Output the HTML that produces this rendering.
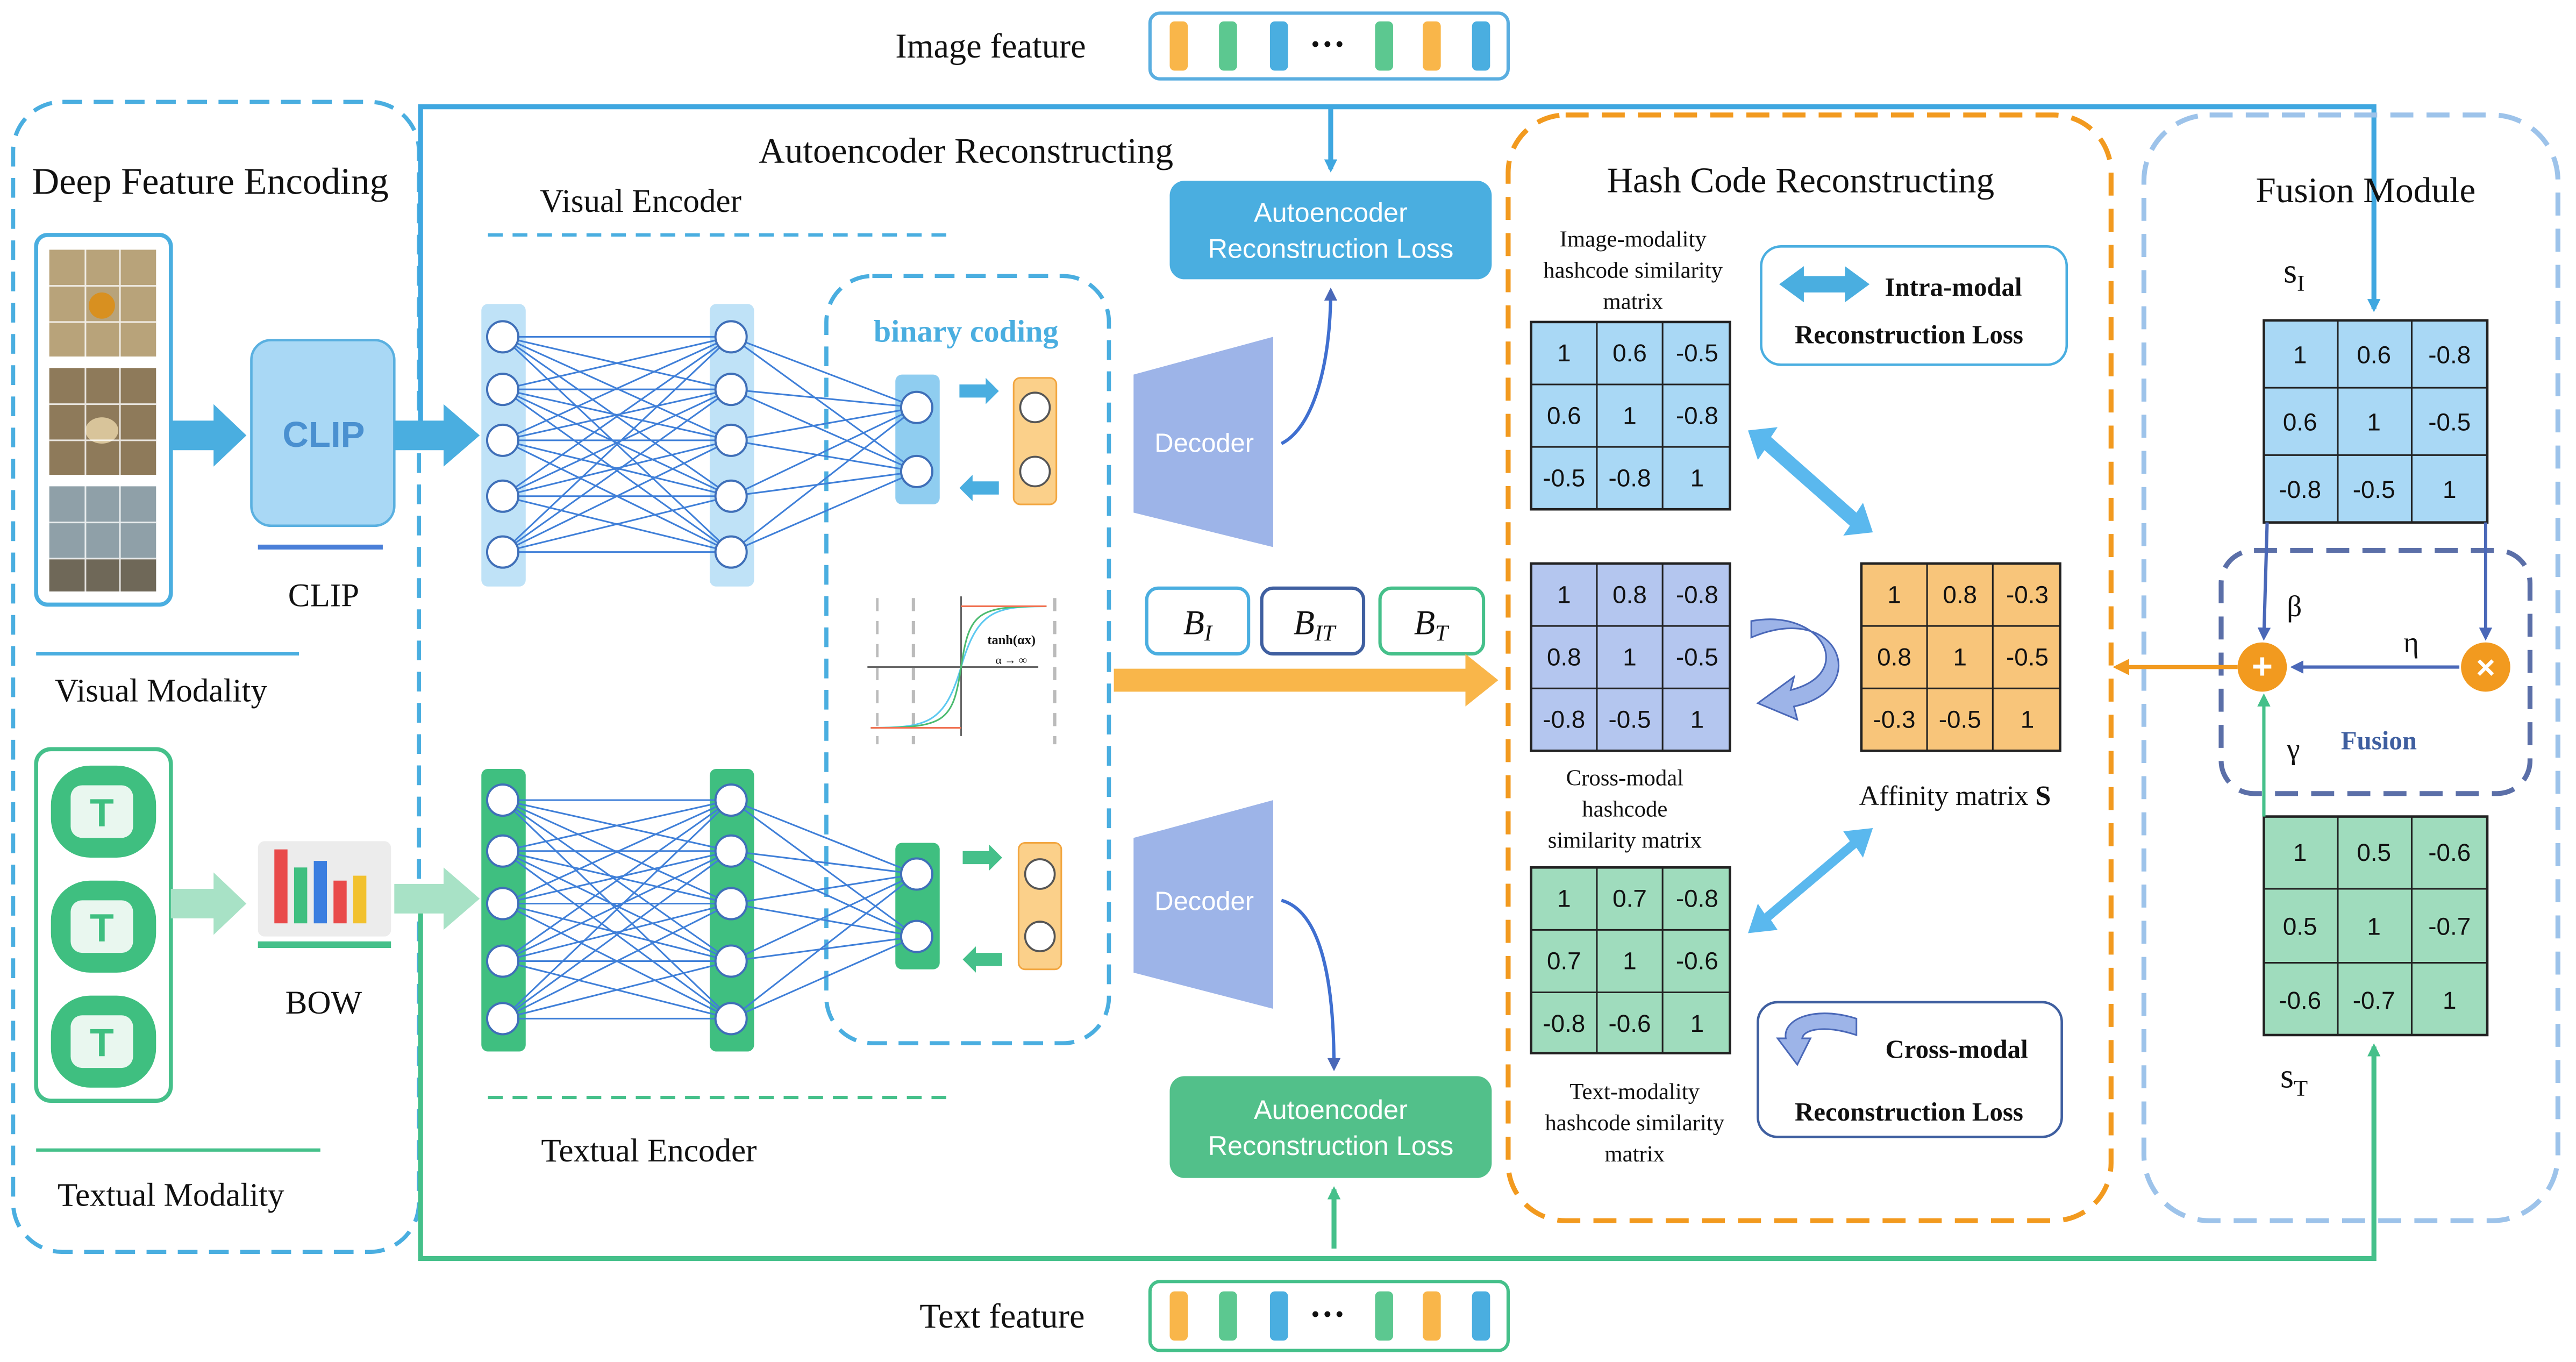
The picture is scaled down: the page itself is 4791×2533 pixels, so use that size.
<!DOCTYPE html>
<html><head><meta charset="utf-8"><style>
html,body{margin:0;padding:0;background:#fff;}
svg{display:block}
.serif{font-family:"Liberation Serif",serif;}
.sans{font-family:"Liberation Sans",sans-serif;}
</style></head><body>
<svg width="4791" height="2533" viewBox="0 0 1568 829" xmlns="http://www.w3.org/2000/svg">
<defs>
<marker id="ab" markerWidth="8" markerHeight="8" refX="6" refY="4" orient="auto" markerUnits="userSpaceOnUse"><path d="M0,0 L8,4 L0,8 z" fill="#3fa7e0"/></marker>
<marker id="ag" markerWidth="8" markerHeight="8" refX="6" refY="4" orient="auto" markerUnits="userSpaceOnUse"><path d="M0,0 L8,4 L0,8 z" fill="#45c08a"/></marker>
<marker id="an" markerWidth="8" markerHeight="8" refX="6" refY="4" orient="auto" markerUnits="userSpaceOnUse"><path d="M0,0 L8,4 L0,8 z" fill="#4a68b8"/></marker>
<marker id="ao" markerWidth="10" markerHeight="10" refX="8" refY="5" orient="auto" markerUnits="userSpaceOnUse"><path d="M0,0 L10,5 L0,10 z" fill="#f29a1f"/></marker>
</defs>
<style>
text{font-family:"Liberation Serif",serif;fill:#111;}
.s{font-family:"Liberation Sans",sans-serif;}
</style>

<!-- top/bottom feature boxes -->
<text x="603" y="35" font-size="21" text-anchor="middle">Image feature</text>
<rect x="700" y="8" width="218" height="40" rx="6" fill="#fff" stroke="#5aaee0" stroke-width="2"/>
<g>
<rect x="712" y="13" width="11" height="30" rx="3" fill="#f9b64a"/><rect x="742" y="13" width="11" height="30" rx="3" fill="#5cc890"/><rect x="773" y="13" width="11" height="30" rx="3" fill="#4aaee0"/>
<text x="808" y="34" font-size="22" text-anchor="middle" font-weight="bold">···</text>
<rect x="837" y="13" width="11" height="30" rx="3" fill="#5cc890"/><rect x="866" y="13" width="11" height="30" rx="3" fill="#f9b64a"/><rect x="896" y="13" width="11" height="30" rx="3" fill="#4aaee0"/>
</g>
<text x="610" y="808" font-size="21" text-anchor="middle">Text feature</text>
<rect x="700" y="780" width="218" height="42" rx="6" fill="#fff" stroke="#45c08a" stroke-width="2"/>
<g>
<rect x="712" y="786" width="11" height="30" rx="3" fill="#f9b64a"/><rect x="742" y="786" width="11" height="30" rx="3" fill="#5cc890"/><rect x="773" y="786" width="11" height="30" rx="3" fill="#4aaee0"/>
<text x="808" y="807" font-size="22" text-anchor="middle" font-weight="bold">···</text>
<rect x="837" y="786" width="11" height="30" rx="3" fill="#5cc890"/><rect x="866" y="786" width="11" height="30" rx="3" fill="#f9b64a"/><rect x="896" y="786" width="11" height="30" rx="3" fill="#4aaee0"/>
</g>

<!-- left dashed box -->
<rect x="8" y="62" width="247" height="700" rx="30" fill="none" stroke="#4aaee0" stroke-width="2.5" stroke-dasharray="12,7"/>
<text x="128" y="118" font-size="23" text-anchor="middle">Deep Feature Encoding</text>
<rect x="22" y="143" width="82" height="225" rx="7" fill="#fff" stroke="#4aaee0" stroke-width="2.5"/>
<rect x="30" y="152" width="65" height="65" fill="#b8a37a"/><circle cx="62" cy="186" r="8" fill="#d89020"/>
<rect x="30" y="224" width="65" height="65" fill="#8e7a5a"/><ellipse cx="62" cy="262" rx="10" ry="8" fill="#d8c49a"/>
<rect x="30" y="296" width="65" height="64" fill="#8fa0a8"/><rect x="30" y="340" width="65" height="20" fill="#6f6858"/>
<g stroke="#fff" stroke-width="1" opacity="0.8">
<line x1="52" y1="152" x2="52" y2="360"/><line x1="73" y1="152" x2="73" y2="360"/>
<line x1="30" y1="174" x2="95" y2="174"/><line x1="30" y1="196" x2="95" y2="196"/>
<line x1="30" y1="246" x2="95" y2="246"/><line x1="30" y1="268" x2="95" y2="268"/>
<line x1="30" y1="318" x2="95" y2="318"/><line x1="30" y1="340" x2="95" y2="340"/></g>
<path d="M104,256 L130,256 L130,246 L150,265 L130,284 L130,274 L104,274 z" fill="#4aaee0"/>
<rect x="153" y="207" width="87" height="113" rx="12" fill="#a9d8f5" stroke="#5ab0e0" stroke-width="1.5"/>
<text x="197" y="272" font-size="22" text-anchor="middle" class="s" font-weight="bold" fill="#4a90d0" style="fill:#4a90d0">CLIP</text>
<line x1="157" y1="333" x2="233" y2="333" stroke="#4a7fd8" stroke-width="3"/>
<text x="197" y="369" font-size="20" text-anchor="middle">CLIP</text>
<line x1="22" y1="398" x2="182" y2="398" stroke="#4aaee0" stroke-width="2"/>
<text x="98" y="427" font-size="20" text-anchor="middle">Visual Modality</text>

<rect x="22" y="456" width="82" height="214" rx="9" fill="#fff" stroke="#45c08a" stroke-width="2.5"/>
<g>
<rect x="31" y="466" width="64" height="56" rx="24" fill="#3fbf80"/><rect x="43" y="478" width="38" height="32" rx="7" fill="#e9f7ef"/><text x="62" y="503" font-size="24" text-anchor="middle" class="s" style="fill:#3fbf80" font-weight="bold">T</text>
<rect x="31" y="536" width="64" height="56" rx="24" fill="#3fbf80"/><rect x="43" y="548" width="38" height="32" rx="7" fill="#e9f7ef"/><text x="62" y="573" font-size="24" text-anchor="middle" class="s" style="fill:#3fbf80" font-weight="bold">T</text>
<rect x="31" y="606" width="64" height="56" rx="24" fill="#3fbf80"/><rect x="43" y="618" width="38" height="32" rx="7" fill="#e9f7ef"/><text x="62" y="643" font-size="24" text-anchor="middle" class="s" style="fill:#3fbf80" font-weight="bold">T</text>
</g>
<path d="M104,541 L130,541 L130,531 L150,550 L130,569 L130,559 L104,559 z" fill="#a8e2c6"/>
<rect x="157" y="512" width="81" height="58" rx="4" fill="#ececec"/>
<rect x="167" y="517" width="8" height="45" fill="#e94a4a"/><rect x="179" y="528" width="8" height="34" fill="#3fbf80"/><rect x="191" y="524" width="8" height="38" fill="#3b7ee0"/><rect x="203" y="536" width="8" height="26" fill="#e94a4a"/><rect x="215" y="533" width="8" height="29" fill="#f2c12e"/>
<line x1="157" y1="575" x2="238" y2="575" stroke="#45c08a" stroke-width="4"/>
<text x="197" y="617" font-size="20" text-anchor="middle">BOW</text>
<line x1="22" y1="700" x2="195" y2="700" stroke="#45c08a" stroke-width="2"/>
<text x="104" y="734" font-size="20" text-anchor="middle">Textual Modality</text>

<!-- long feature lines -->
<path d="M256,265 L256,65 L1445,65 L1445,188" fill="none" stroke="#3fa7e0" stroke-width="3" marker-end="url(#ab)"/>
<line x1="810" y1="65" x2="810" y2="103" stroke="#3fa7e0" stroke-width="3" marker-end="url(#ab)"/>
<path d="M256,550 L256,766 L1445,766 L1445,637" fill="none" stroke="#45c08a" stroke-width="3" marker-end="url(#ag)"/>
<line x1="812" y1="760" x2="812" y2="724" stroke="#45c08a" stroke-width="3" marker-end="url(#ag)"/>
<path d="M240,256 L270,256 L270,246 L292,265 L270,284 L270,274 L240,274 z" fill="#4aaee0"/>
<path d="M240,538 L270,538 L270,528 L292,547 L270,566 L270,556 L240,556 z" fill="#a8e2c6"/>

<!-- Autoencoder section -->
<text x="588" y="99" font-size="22" text-anchor="middle">Autoencoder Reconstructing</text>
<text x="390" y="129" font-size="20" text-anchor="middle">Visual Encoder</text>
<line x1="297" y1="143" x2="577" y2="143" stroke="#4aaee0" stroke-width="2" stroke-dasharray="9,6"/>
<rect x="503" y="168" width="172" height="467" rx="28" fill="none" stroke="#4aaee0" stroke-width="2.5" stroke-dasharray="12,7"/>
<text x="588" y="208" font-size="19" text-anchor="middle" font-weight="bold" style="fill:#4aaee0">binary coding</text>

<!-- visual network -->
<rect x="293" y="185" width="27" height="172" rx="4" fill="#bfe2f7"/>
<rect x="432" y="185" width="27" height="172" rx="4" fill="#bfe2f7"/>
<rect x="545" y="228" width="27" height="79" rx="4" fill="#8fcdf0"/>
<path stroke="#3f7fd8" stroke-width="1" fill="none" d="
M306,205L445,205M306,205L445,237M306,205L445,268M306,205L445,302M306,205L445,336
M306,237L445,205M306,237L445,237M306,237L445,268M306,237L445,302M306,237L445,336
M306,268L445,205M306,268L445,237M306,268L445,268M306,268L445,302M306,268L445,336
M306,302L445,205M306,302L445,237M306,302L445,268M306,302L445,302M306,302L445,336
M306,336L445,205M306,336L445,237M306,336L445,268M306,336L445,302M306,336L445,336
M445,205L558,248M445,237L558,248M445,268L558,248M445,302L558,248M445,336L558,248
M445,205L558,287M445,237L558,287M445,268L558,287M445,302L558,287M445,336L558,287"/>
<g fill="#fff" stroke="#3f6fb8" stroke-width="1.3">
<circle cx="306" cy="205" r="9.5"/><circle cx="306" cy="237" r="9.5"/><circle cx="306" cy="268" r="9.5"/><circle cx="306" cy="302" r="9.5"/><circle cx="306" cy="336" r="9.5"/>
<circle cx="445" cy="205" r="9.5"/><circle cx="445" cy="237" r="9.5"/><circle cx="445" cy="268" r="9.5"/><circle cx="445" cy="302" r="9.5"/><circle cx="445" cy="336" r="9.5"/>
<circle cx="558" cy="248" r="9.5"/><circle cx="558" cy="287" r="9.5"/></g>
<rect x="617" y="230" width="26" height="77" rx="4" fill="#fbd08a" stroke="#f2a640" stroke-width="1"/>
<g fill="#fff" stroke="#555" stroke-width="1.2"><circle cx="630" cy="248" r="9"/><circle cx="630" cy="287" r="9"/></g>
<path d="M584,234 L600,234 L600,230 L608,238 L600,246 L600,242 L584,242z" fill="#4aaee0"/>
<path d="M608,293 L592,293 L592,289 L584,297 L592,305 L592,301 L608,301z" fill="#4aaee0"/>

<!-- tanh -->
<g>
<line x1="556" y1="364" x2="556" y2="453" stroke="#bbb" stroke-width="2" stroke-dasharray="8,6"/>
<line x1="534" y1="364" x2="534" y2="453" stroke="#bbb" stroke-width="1.5" stroke-dasharray="8,6"/>
<line x1="642" y1="364" x2="642" y2="453" stroke="#bbb" stroke-width="2" stroke-dasharray="8,6"/>
<line x1="528" y1="406" x2="632" y2="406" stroke="#666" stroke-width="1"/>
<line x1="585" y1="363" x2="585" y2="448" stroke="#666" stroke-width="1"/>
<path d="M530,443 C565,443 575,440 585,406 C595,372 605,369 637,369" fill="none" stroke="#5cc8f0" stroke-width="1"/>
<path d="M530,443 C575,443 580,440 585,406 C590,372 595,369 637,369" fill="none" stroke="#4cbb70" stroke-width="1"/>
<path d="M530,443 L585,443 M585,369 L637,369" fill="none" stroke="#f07050" stroke-width="1"/>
<text x="601" y="392" font-size="8" font-weight="bold">tanh(αx)</text>
<text x="606" y="404" font-size="7">α → ∞</text>
</g>

<!-- textual network -->
<rect x="293" y="468" width="27" height="172" rx="4" fill="#3fbf80"/>
<rect x="432" y="468" width="27" height="172" rx="4" fill="#3fbf80"/>
<rect x="545" y="513" width="27" height="77" rx="4" fill="#3fbf80"/>
<path stroke="#3f7fd8" stroke-width="1" fill="none" d="
M306,487L445,487M306,487L445,518M306,487L445,550M306,487L445,585M306,487L445,620
M306,518L445,487M306,518L445,518M306,518L445,550M306,518L445,585M306,518L445,620
M306,550L445,487M306,550L445,518M306,550L445,550M306,550L445,585M306,550L445,620
M306,585L445,487M306,585L445,518M306,585L445,550M306,585L445,585M306,585L445,620
M306,620L445,487M306,620L445,518M306,620L445,550M306,620L445,585M306,620L445,620
M445,487L558,532M445,518L558,532M445,550L558,532M445,585L558,532M445,620L558,532
M445,487L558,570M445,518L558,570M445,550L558,570M445,585L558,570M445,620L558,570"/>
<g fill="#fff" stroke="#3f6fb8" stroke-width="1.3">
<circle cx="306" cy="487" r="9.5"/><circle cx="306" cy="518" r="9.5"/><circle cx="306" cy="550" r="9.5"/><circle cx="306" cy="585" r="9.5"/><circle cx="306" cy="620" r="9.5"/>
<circle cx="445" cy="487" r="9.5"/><circle cx="445" cy="518" r="9.5"/><circle cx="445" cy="550" r="9.5"/><circle cx="445" cy="585" r="9.5"/><circle cx="445" cy="620" r="9.5"/>
<circle cx="558" cy="532" r="9.5"/><circle cx="558" cy="570" r="9.5"/></g>
<rect x="620" y="513" width="26" height="77" rx="4" fill="#fbd08a" stroke="#f2a640" stroke-width="1"/>
<g fill="#fff" stroke="#555" stroke-width="1.2"><circle cx="633" cy="532" r="9"/><circle cx="633" cy="570" r="9"/></g>
<path d="M586,518 L602,518 L602,514 L610,522 L602,530 L602,526 L586,526z" fill="#45c08a"/>
<path d="M610,580 L594,580 L594,576 L586,584 L594,592 L594,588 L610,588z" fill="#45c08a"/>
<line x1="297" y1="668" x2="577" y2="668" stroke="#45c08a" stroke-width="2" stroke-dasharray="9,6"/>
<text x="395" y="707" font-size="20" text-anchor="middle">Textual Encoder</text>

<!-- decoders -->
<polygon points="690,228 775,205 775,333 690,312" fill="#9db4e8"/>
<text x="733" y="275" font-size="16" text-anchor="middle" class="s" style="fill:#fff">Decoder</text>
<polygon points="690,510 775,487 775,614 690,592" fill="#9db4e8"/>
<text x="733" y="554" font-size="16" text-anchor="middle" class="s" style="fill:#fff">Decoder</text>
<path d="M780,270 C800,260 810,220 810,177" fill="none" stroke="#3f6fd0" stroke-width="2" marker-end="url(#an)"/>
<path d="M780,548 C805,555 812,600 812,650" fill="none" stroke="#3f6fd0" stroke-width="2" marker-end="url(#an)"/>
<rect x="712" y="110" width="196" height="60" rx="9" fill="#4aaee0"/>
<text x="810" y="135" font-size="16.5" text-anchor="middle" class="s" style="fill:#fff">Autoencoder</text>
<text x="810" y="157" font-size="16.5" text-anchor="middle" class="s" style="fill:#fff">Reconstruction Loss</text>
<rect x="712" y="655" width="196" height="62" rx="9" fill="#52c08a"/>
<text x="810" y="681" font-size="16.5" text-anchor="middle" class="s" style="fill:#fff">Autoencoder</text>
<text x="810" y="703" font-size="16.5" text-anchor="middle" class="s" style="fill:#fff">Reconstruction Loss</text>

<rect x="698" y="358" width="62" height="40" rx="7" fill="#fff" stroke="#4aaee0" stroke-width="2"/>
<text x="729" y="386" font-size="21" text-anchor="middle" font-style="italic">B<tspan font-size="14" dy="4">I</tspan></text>
<rect x="768" y="358" width="62" height="40" rx="7" fill="#fff" stroke="#3f5fa0" stroke-width="2"/>
<text x="800" y="386" font-size="21" text-anchor="middle" font-style="italic">B<tspan font-size="14" dy="4">IT</tspan></text>
<rect x="840" y="358" width="63" height="40" rx="7" fill="#fff" stroke="#45c08a" stroke-width="2"/>
<text x="871" y="386" font-size="21" text-anchor="middle" font-style="italic">B<tspan font-size="14" dy="4">T</tspan></text>
<path d="M678,407 L892,407 L892,398 L912,414 L892,430 L892,421 L678,421 z" fill="#f9b64a"/>

<!-- Hash code reconstructing -->
<rect x="918" y="70" width="367" height="673" rx="35" fill="none" stroke="#f29a1f" stroke-width="3" stroke-dasharray="14,8"/>
<text x="1096" y="117" font-size="22" text-anchor="middle">Hash Code Reconstructing</text>
<text x="994" y="150" font-size="14" text-anchor="middle">Image-modality</text>
<text x="994" y="169" font-size="14" text-anchor="middle">hashcode similarity</text>
<text x="994" y="188" font-size="14" text-anchor="middle">matrix</text>

<g class="s" font-size="15">
<!-- blue matrix -->
<rect x="932" y="196" width="121" height="114" fill="#a9d8f5" stroke="#222" stroke-width="1.5"/>
<path d="M972,196V310M1012,196V310M932,234H1053M932,272H1053" stroke="#222" stroke-width="1"/>
<g text-anchor="middle" class="s"><text class="s" x="952" y="220">1</text><text class="s" x="992" y="220">0.6</text><text class="s" x="1033" y="220">-0.5</text>
<text class="s" x="952" y="258">0.6</text><text class="s" x="992" y="258">1</text><text class="s" x="1033" y="258">-0.8</text>
<text class="s" x="952" y="296">-0.5</text><text class="s" x="992" y="296">-0.8</text><text class="s" x="1033" y="296">1</text></g>
<!-- cross -->
<rect x="932" y="343" width="121" height="114" fill="#b4c6ef" stroke="#222" stroke-width="1.5"/>
<path d="M972,343V457M1012,343V457M932,381H1053M932,419H1053" stroke="#222" stroke-width="1"/>
<g text-anchor="middle"><text class="s" x="952" y="367">1</text><text class="s" x="992" y="367">0.8</text><text class="s" x="1033" y="367">-0.8</text>
<text class="s" x="952" y="405">0.8</text><text class="s" x="992" y="405">1</text><text class="s" x="1033" y="405">-0.5</text>
<text class="s" x="952" y="443">-0.8</text><text class="s" x="992" y="443">-0.5</text><text class="s" x="1033" y="443">1</text></g>
<!-- green -->
<rect x="932" y="528" width="121" height="113" fill="#9fdcbd" stroke="#222" stroke-width="1.5"/>
<path d="M972,528V641M1012,528V641M932,566H1053M932,604H1053" stroke="#222" stroke-width="1"/>
<g text-anchor="middle"><text class="s" x="952" y="552">1</text><text class="s" x="992" y="552">0.7</text><text class="s" x="1033" y="552">-0.8</text>
<text class="s" x="952" y="590">0.7</text><text class="s" x="992" y="590">1</text><text class="s" x="1033" y="590">-0.6</text>
<text class="s" x="952" y="628">-0.8</text><text class="s" x="992" y="628">-0.6</text><text class="s" x="1033" y="628">1</text></g>
<!-- affinity -->
<rect x="1133" y="343" width="121" height="114" fill="#f8c57a" stroke="#222" stroke-width="1.5"/>
<path d="M1173,343V457M1213,343V457M1133,381H1254M1133,419H1254" stroke="#222" stroke-width="1"/>
<g text-anchor="middle"><text class="s" x="1153" y="367">1</text><text class="s" x="1193" y="367">0.8</text><text class="s" x="1234" y="367">-0.3</text>
<text class="s" x="1153" y="405">0.8</text><text class="s" x="1193" y="405">1</text><text class="s" x="1234" y="405">-0.5</text>
<text class="s" x="1153" y="443">-0.3</text><text class="s" x="1193" y="443">-0.5</text><text class="s" x="1234" y="443">1</text></g>
</g>
<text x="989" y="478" font-size="14" text-anchor="middle">Cross-modal</text>
<text x="989" y="497" font-size="14" text-anchor="middle">hashcode</text>
<text x="989" y="516" font-size="14" text-anchor="middle">similarity matrix</text>
<text x="995" y="669" font-size="14" text-anchor="middle">Text-modality</text>
<text x="995" y="688" font-size="14" text-anchor="middle">hashcode  similarity</text>
<text x="995" y="707" font-size="14" text-anchor="middle">matrix</text>
<text x="1190" y="490" font-size="17" text-anchor="middle">Affinity matrix <tspan font-weight="bold">S</tspan></text>

<!-- legends -->
<rect x="1072" y="150" width="186" height="72" rx="12" fill="#fff" stroke="#4aaee0" stroke-width="1.5"/>
<path d="M1083,173 L1098,162 L1098,168 L1123,168 L1123,162 L1138,173 L1123,184 L1123,178 L1098,178 L1098,184 z" fill="#4aaee0"/>
<text x="1189" y="180" font-size="16" text-anchor="middle" font-weight="bold">Intra-modal</text>
<text x="1162" y="209" font-size="16" text-anchor="middle" font-weight="bold">Reconstruction Loss</text>
<rect x="1070" y="610" width="185" height="82" rx="12" fill="#fff" stroke="#3f5fa0" stroke-width="1.5"/>
<path d="M1130,620 C1105,612 1085,620 1087,632 L1082,632 L1094,648 L1102,632 L1097,632 C1098,626 1112,624 1130,630 z" fill="#9db4e8" stroke="#4a68b8" stroke-width="1"/>
<text x="1191" y="644" font-size="16" text-anchor="middle" font-weight="bold">Cross-modal</text>
<text x="1162" y="682" font-size="16" text-anchor="middle" font-weight="bold">Reconstruction Loss</text>

<!-- double diagonal arrows -->
<g fill="#5ab8ee">
<path d="M1064,262 L1082,260 L1078,266 L1130,312 L1134,306 L1140,324 L1122,326 L1126,320 L1074,274 L1070,280 z"/>
<path d="M1064,568 L1070,550 L1074,556 L1126,512 L1122,506 L1140,504 L1134,522 L1130,516 L1078,560 L1082,566 z"/>
</g>
<path d="M1066,378 C1110,370 1130,410 1090,420 L1092,412 L1070,428 L1094,438 L1092,430 C1140,420 1120,365 1066,388 z" fill="#9db4e8" stroke="#4a68b8" stroke-width="1"/>

<!-- Fusion module -->
<rect x="1305" y="70" width="252" height="673" rx="40" fill="none" stroke="#9dc3ea" stroke-width="3" stroke-dasharray="14,8"/>
<text x="1440" y="123" font-size="22" text-anchor="middle">Fusion Module</text>
<text x="1390" y="172" font-size="21">s<tspan font-size="14" dy="5">I</tspan></text>
<text x="1388" y="662" font-size="21">s<tspan font-size="14" dy="5">T</tspan></text>
<g class="s" font-size="15">
<rect x="1378" y="195" width="136" height="123" fill="#a9d8f5" stroke="#222" stroke-width="1.5"/>
<path d="M1423,195V318M1468,195V318M1378,236H1514M1378,277H1514" stroke="#222" stroke-width="1"/>
<g text-anchor="middle"><text class="s" x="1400" y="221">1</text><text class="s" x="1445" y="221">0.6</text><text class="s" x="1491" y="221">-0.8</text>
<text class="s" x="1400" y="262">0.6</text><text class="s" x="1445" y="262">1</text><text class="s" x="1491" y="262">-0.5</text>
<text class="s" x="1400" y="303">-0.8</text><text class="s" x="1445" y="303">-0.5</text><text class="s" x="1491" y="303">1</text></g>
<rect x="1378" y="497" width="136" height="133" fill="#9fdcbd" stroke="#222" stroke-width="1.5"/>
<path d="M1423,497V630M1468,497V630M1378,541H1514M1378,586H1514" stroke="#222" stroke-width="1"/>
<g text-anchor="middle"><text class="s" x="1400" y="524">1</text><text class="s" x="1445" y="524">0.5</text><text class="s" x="1491" y="524">-0.6</text>
<text class="s" x="1400" y="569">0.5</text><text class="s" x="1445" y="569">1</text><text class="s" x="1491" y="569">-0.7</text>
<text class="s" x="1400" y="614">-0.6</text><text class="s" x="1445" y="614">-0.7</text><text class="s" x="1491" y="614">1</text></g>
</g>
<rect x="1352" y="335" width="188" height="148" rx="20" fill="none" stroke="#5b6fa8" stroke-width="3" stroke-dasharray="14,8"/>
<line x1="1380" y1="318" x2="1378" y2="388" stroke="#4a68b8" stroke-width="2" marker-end="url(#an)"/>
<line x1="1513" y1="318" x2="1513" y2="388" stroke="#4a68b8" stroke-width="2" marker-end="url(#an)"/>
<line x1="1497" y1="406" x2="1396" y2="406" stroke="#4a68b8" stroke-width="2" marker-end="url(#an)"/>
<line x1="1378" y1="497" x2="1378" y2="424" stroke="#45c08a" stroke-width="2" marker-end="url(#ag)"/>
<line x1="1362" y1="406" x2="1288" y2="406" stroke="#f29a1f" stroke-width="2.5" marker-end="url(#ao)"/>
<circle cx="1377" cy="406" r="15" fill="#f29a1f"/>
<text x="1377" y="413" font-size="22" text-anchor="middle" class="s" style="fill:#fff" font-weight="bold">+</text>
<circle cx="1513" cy="406" r="15" fill="#f29a1f"/>
<text x="1513" y="413" font-size="20" text-anchor="middle" class="s" style="fill:#fff" font-weight="bold">×</text>
<text x="1392" y="375" font-size="18">β</text>
<text x="1463" y="397" font-size="18">η</text>
<text x="1392" y="462" font-size="18">γ</text>
<text x="1448" y="456" font-size="16" text-anchor="middle" font-weight="bold" style="fill:#3f5fa0">Fusion</text>
</svg>
</body></html>
